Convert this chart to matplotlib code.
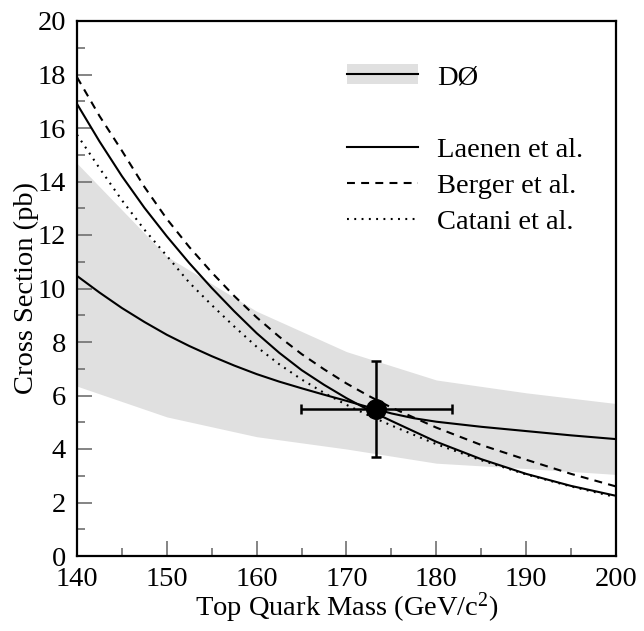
import matplotlib
matplotlib.use("Agg")
import matplotlib.pyplot as plt
from matplotlib.patches import Patch
from matplotlib.lines import Line2D

plt.rcParams['font.family'] = ['Liberation Serif', 'DejaVu Serif']
plt.rcParams['mathtext.fontset'] = 'custom'
plt.rcParams['mathtext.rm'] = 'Liberation Serif'
plt.rcParams['mathtext.it'] = 'Liberation Serif:italic'

# D0 measured band (upper / lower edges vs top mass)
band_mass = [140, 150, 160, 170, 180, 190, 200]
band_upper = [14.68, 11.2, 9.15, 7.64, 6.58, 6.1, 5.7]
band_lower = [6.35, 5.2, 4.46, 4.0, 3.47, 3.27, 3.05]

# D0 central curve
d0_mass = [140, 142.5, 145, 147.5, 150, 152.5, 155, 157.5, 160, 162.5, 165, 167.5,
           170, 172.5, 175, 177.5, 180, 185, 190, 195, 200]
d0_curve = [10.47, 9.85, 9.27, 8.75, 8.27, 7.85, 7.47, 7.12, 6.8, 6.52, 6.27, 6.03,
            5.8, 5.56, 5.33, 5.15, 5.02, 4.83, 4.67, 4.51, 4.37]

# Theory predictions
th_mass = [140, 142.5, 145, 147.5, 150, 152.5, 155, 157.5, 160, 162.5, 165, 167.5,
           170, 172.5, 175, 180, 185, 190, 195, 200]
laenen = [16.9, 15.5, 14.2, 13.02, 11.95, 10.95, 10.02, 9.15, 8.33, 7.6, 6.95, 6.4,
          5.9, 5.45, 5.05, 4.27, 3.62, 3.07, 2.62, 2.25]
berger = [17.9, 16.45, 15.15, 13.8, 12.6, 11.55, 10.6, 9.72, 8.92, 8.2, 7.55, 6.98,
          6.45, 5.98, 5.55, 4.8, 4.15, 3.6, 3.07, 2.6]
catani = [15.75, 14.5, 13.3, 12.2, 11.22, 10.22, 9.38, 8.58, 7.82, 7.17, 6.6, 6.1,
          5.65, 5.25, 4.88, 4.18, 3.58, 3.05, 2.6, 2.2]

# Measured point
pt_mass = 173.3
pt_xs = 5.5
pt_mass_err = 8.4
pt_xs_err = 1.8

BAND = '#e0e0e0'
LW = 1.5
DASH = (0, (3.8, 3.0))
DOT = (0, (0.9, 2.6))

fig = plt.figure(figsize=(6.44, 6.31), dpi=100)
ax = fig.add_axes([77/644, 1-556/631, (616-77)/644, (556-21)/631])

ax.fill_between(band_mass, band_lower, band_upper, color=BAND, lw=0, zorder=1)
ax.plot(d0_mass, d0_curve, color='black', lw=LW, zorder=3)
ax.plot(th_mass, laenen, color='black', lw=LW, ls='-', zorder=3)
ax.plot(th_mass, berger, color='black', lw=LW, ls=DASH, zorder=3)
ax.plot(th_mass, catani, color='black', lw=LW, ls=DOT, zorder=3)

ax.errorbar([pt_mass], [pt_xs], xerr=[pt_mass_err], yerr=[pt_xs_err], fmt='o',
            color='black', ms=14, elinewidth=1.8, capsize=3.4, capthick=1.8, zorder=5)

ax.set_xlim(140, 200)
ax.set_ylim(0, 20)
ax.set_xticks(range(140, 201, 10))
ax.set_xticks(range(145, 200, 10), minor=True)
ax.set_yticks(range(0, 21, 2))
ax.set_yticks(range(1, 20, 2), minor=True)
ax.tick_params(which='both', direction='in', top=False, right=False,
               color='#707070', width=1.2, labelsize=20.5)
ax.tick_params(axis='y', which='both', pad=8)
ax.tick_params(axis='x', which='both', pad=8)
ax.tick_params(which='major', length=11)
ax.tick_params(which='minor', length=6)
for s in ax.spines.values():
    s.set_linewidth(1.6)

ax.set_xlabel('Top Quark Mass (GeV/c$^{2}$)', fontsize=20.5, labelpad=-1)
ax.set_ylabel('Cross Section (pb)', fontsize=20.5, labelpad=-1.5)

handles = [
    (Patch(facecolor=BAND, edgecolor='none'), Line2D([], [], color='black', lw=LW)),
    Line2D([], [], color='none'),
    Line2D([], [], color='black', lw=LW),
    Line2D([], [], color='black', lw=LW, ls=DASH),
    Line2D([], [], color='black', lw=LW, ls=DOT),
]
labels = ['DØ', ' ', 'Laenen et al.', 'Berger et al.', 'Catani et al.']
ax.legend(handles, labels, loc='upper left', bbox_to_anchor=(0.48, 0.94),
          frameon=False, fontsize=20.5, handlelength=2.5, handletextpad=0.67,
          labelspacing=0.36, borderaxespad=0)

fig.savefig('out.png', dpi=100)
